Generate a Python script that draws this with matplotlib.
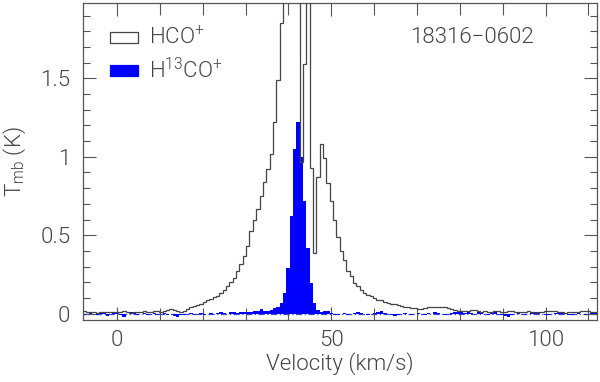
import numpy as np
import matplotlib
matplotlib.use("Agg")
import matplotlib.pyplot as plt
from matplotlib.patches import Rectangle
from matplotlib.ticker import MultipleLocator, FixedLocator

# ---- data ----
v_start = -8.1          # km/s, first channel edge
chan_width = 0.78       # km/s

hco = [
    0.015, 0.012, 0.008, 0.01, 0.005, 0.01, 0.012, 0.008, 0.01, 0.012,
    0.008, 0.01, 0.015, 0.01, 0.005, 0.008, 0.012, 0.01, 0.015, 0.012,
    0.01, 0.015, 0.018, 0.012, 0.02, 0.025, 0.028, 0.022, 0.015, 0.012,
    0.02, 0.03, 0.04, 0.05, 0.055, 0.065, 0.075, 0.085, 0.095, 0.105,
    0.115, 0.13, 0.15, 0.175, 0.20, 0.23, 0.27, 0.32, 0.37, 0.43,
    0.53, 0.60, 0.67, 0.75, 0.84, 0.92, 1.02, 1.22, 1.49, 1.85,
    2.3, 2.6, 2.8, 2.7, 2.4, 0.97, 1.59, 2.2, 0.93, 0.39,
    0.87, 1.08, 0.99, 0.83, 0.72, 0.60, 0.49, 0.40, 0.34, 0.27,
    0.24, 0.195, 0.175, 0.15, 0.135, 0.12, 0.11, 0.10, 0.09, 0.085,
    0.075, 0.07, 0.065, 0.06, 0.055, 0.05, 0.045, 0.04, 0.035, 0.035,
    0.03, 0.03, 0.035, 0.04, 0.04, 0.045, 0.045, 0.04, 0.04, 0.035,
    0.03, 0.025, 0.02, 0.018, 0.015, 0.02, 0.025, 0.022, 0.015, 0.012,
    0.015, 0.01, 0.012, 0.018, 0.015, 0.01, 0.012, 0.02, 0.015, 0.012,
    0.01, 0.008, 0.012, 0.015, 0.01, 0.005, 0.008, 0.012, 0.018, 0.015,
    0.02, 0.018, 0.012, 0.01, 0.005, 0.008, 0.01, 0.012, 0.01, 0.015,
    0.02, 0.018, 0.012, 0.01,
]

h13co = [
    -0.005, 0.0, 0.005, 0.0, -0.005, 0.01, 0.008, -0.015, 0.0, 0.005,
    0.01, -0.005, -0.02, 0.0, 0.01, 0.005, -0.005, 0.0, 0.005, -0.005,
    0.0, 0.005, -0.005, 0.0, 0.005, -0.01, 0.0, -0.015, -0.02, -0.01,
    -0.005, 0.0, 0.005, -0.005, 0.0, 0.005, -0.005, 0.0, 0.005, 0.0,
    0.005, 0.01, 0.005, 0.0, 0.008, 0.01, 0.005, 0.01, 0.008, 0.012,
    0.01, 0.015, 0.02, 0.03, 0.015, 0.02, 0.025, 0.035, 0.045, 0.07,
    0.13, 0.29, 0.62, 1.05, 1.22, 1.0, 0.72, 0.42, 0.195, 0.07,
    0.025, 0.01, 0.02, 0.015, 0.005, -0.005, -0.01, 0.0, 0.005, -0.005,
    0.0, 0.005, 0.01, 0.005, 0.0, -0.005, 0.0, 0.005, 0.01, 0.015,
    0.005, 0.0, -0.01, -0.015, -0.005, 0.0, 0.005, 0.0, -0.005, 0.0,
    0.005, 0.0, -0.005, 0.005, 0.0, 0.01, 0.005, 0.0, -0.005, 0.0,
    0.005, 0.01, 0.015, 0.01, 0.005, 0.01, 0.005, 0.0, 0.01, 0.005,
    0.0, -0.005, 0.005, 0.01, 0.0, -0.01, -0.015, -0.02, -0.01, 0.0,
    0.005, 0.0, -0.005, 0.0, 0.005, 0.01, 0.005, 0.0, -0.01, -0.005,
    0.0, 0.005, 0.01, 0.005, 0.0, -0.005, -0.01, 0.0, 0.005, 0.0,
    -0.005, 0.0, 0.005, 0.01,
]

x_ticks = [0, 50, 100]
x_tick_labels = ["0", "50", "100"]
y_ticks = [0, 0.5, 1, 1.5]
y_tick_labels = ["0", "0.5", "1", "1.5"]
legend_labels = ["HCO$^{+}$", "H$^{13}$CO$^{+}$"]
source_name = "18316\u22120602"

# ---- figure ----
W = 300
plt.rcParams['font.family'] = ['Roboto', 'DejaVu Sans']
plt.rcParams['font.weight'] = W
plt.rcParams['axes.labelweight'] = W
plt.rcParams['mathtext.fontset'] = 'custom'
plt.rcParams['mathtext.rm'] = 'Roboto'
plt.rcParams['mathtext.it'] = 'Roboto'
plt.rcParams['mathtext.default'] = 'rm'
GREY = "#444444"
FS = 16

fig = plt.figure(figsize=(6.0, 3.82), dpi=100)
ax = fig.add_axes([0.138, 0.1623, 0.857, 0.8298])

edges = v_start + chan_width * np.arange(len(hco) + 1)

ax.axhline(0, color="#3344dd", lw=0.9, ls=(0, (5, 2, 1, 2)), zorder=1)
ax.stairs(h13co, edges, baseline=0, fill=True, color="#0000ff", lw=0, zorder=2)
ax.stairs(hco, edges, baseline=None, color="#444444", lw=0.9, zorder=3)

ax.set_xlim(-8, 112)
ax.set_ylim(-0.04, 1.98)

ax.xaxis.set_major_locator(FixedLocator(x_ticks))
ax.set_xticklabels(x_tick_labels, fontweight=W)
ax.xaxis.set_minor_locator(MultipleLocator(10))
ax.yaxis.set_major_locator(FixedLocator(y_ticks))
ax.set_yticklabels(y_tick_labels, fontweight=W)
ax.yaxis.set_minor_locator(MultipleLocator(0.1))

ax.tick_params(which="both", direction="in", top=True, right=True,
               color="#555555", width=0.8, labelcolor=GREY, labelsize=FS)
ax.tick_params(axis="x", which="major", length=9.5, pad=7)
ax.tick_params(axis="x", which="minor", length=8.5)
ax.tick_params(axis="y", which="major", length=9.5, pad=9)
ax.tick_params(axis="y", which="minor", length=5)
for s in ax.spines.values():
    s.set_color("#555555")
    s.set_linewidth(0.9)

ax.set_xlabel("Velocity (km/s)", color=GREY, fontsize=FS, fontweight=W,
              labelpad=1)
ax.set_ylabel("T$_{\\rm mb}$ (K)", color=GREY, fontsize=FS, fontweight=W,
              labelpad=9)

# legend drawn by hand in axes coordinates
tr = ax.transAxes
ax.add_patch(Rectangle((0.053, 0.873), 0.054, 0.035, transform=tr,
                       facecolor="white", edgecolor="#444444", lw=0.9, zorder=5))
ax.add_patch(Rectangle((0.053, 0.770), 0.054, 0.035, transform=tr,
                       facecolor="#0000ff", edgecolor="#0000ff", lw=0.9, zorder=5))
ax.text(0.128, 0.890, legend_labels[0], transform=tr, color=GREY,
        fontsize=FS, fontweight=W, va="center", ha="left")
ax.text(0.128, 0.787, legend_labels[1], transform=tr, color=GREY,
        fontsize=FS, fontweight=W, va="center", ha="left")
ax.text(0.756, 0.890, source_name, transform=tr, color=GREY,
        fontsize=FS, fontweight=W, va="center", ha="center")

fig.savefig("out.png", dpi=100)
